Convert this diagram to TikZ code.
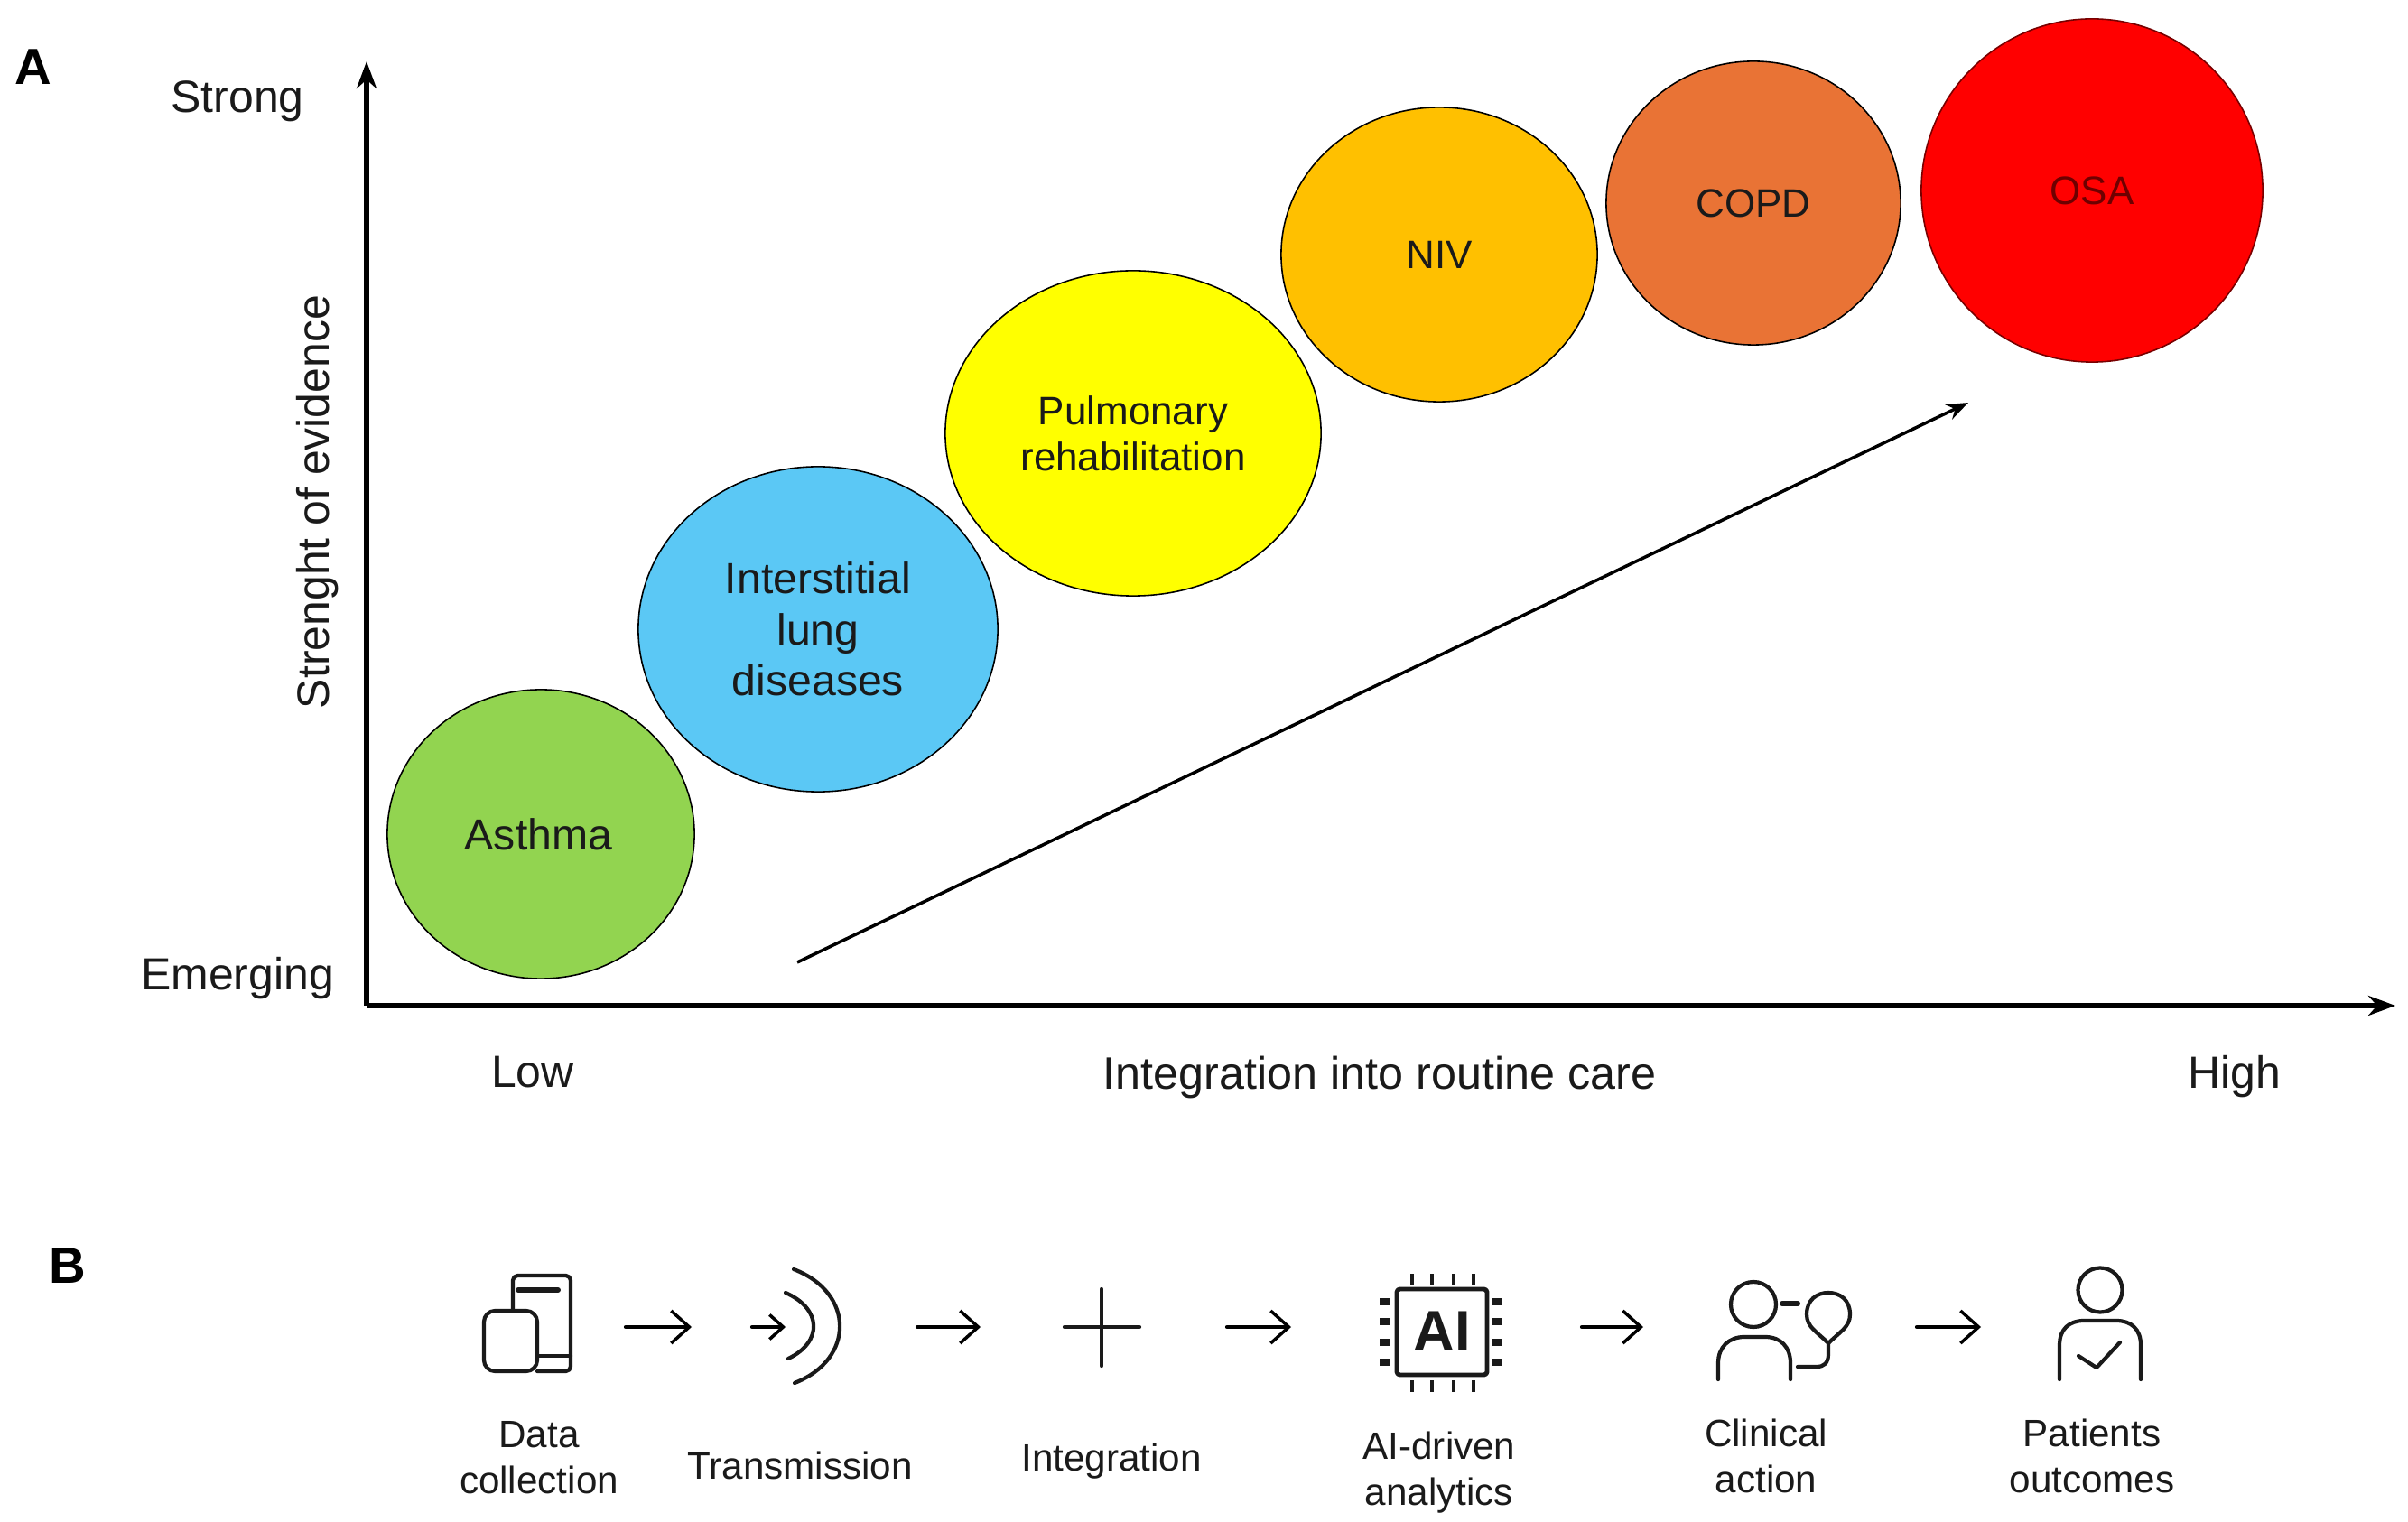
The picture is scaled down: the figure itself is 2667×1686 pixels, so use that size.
\documentclass[tikz,border=0pt]{standalone}
\usepackage{fontspec}
\setmainfont{Liberation Sans}
\usetikzlibrary{arrows.meta,shapes.geometric}
\definecolor{ink}{HTML}{1A1A1A}
\definecolor{cgreen}{RGB}{146,212,80}
\definecolor{cblue}{RGB}{91,200,245}
\definecolor{cyellow}{RGB}{255,255,0}
\definecolor{corange}{RGB}{255,192,0}
\definecolor{ccopd}{RGB}{233,115,53}
\definecolor{cred}{RGB}{255,0,0}
\definecolor{cosaedge}{RGB}{120,0,0}
\definecolor{cosatext}{RGB}{110,0,0}
\tikzset{
  blob/.style={ellipse,draw=black,line width=0.45pt,inner sep=0pt,align=center,text=ink},
  bigtxt/.style={font=\fontsize{13.7}{16}\selectfont},
  midtxt/.style={font=\fontsize{12.5}{14.5}\selectfont},
  axislabel/.style={text=ink,font=\fontsize{14.2}{16}\selectfont,inner sep=0pt},
  steplabel/.style={text=ink,font=\fontsize{12}{14.5}\selectfont,align=center,inner sep=0pt},
  panel/.style={font=\fontsize{16}{18}\bfseries\selectfont,inner sep=0pt},
  axisline/.style={line width=1.5pt,-{Stealth[length=0.3cm,width=0.22cm]}},
  flow/.style={line width=1.2pt,line cap=round,-{Straight Barb[length=0.2cm,width=0.36cm,line width=1pt]}},
  icon/.style={line width=1.2pt,line cap=round,line join=round,draw=ink},
  pin/.style={line width=1.2pt,draw=ink},
}
\begin{document}
\begin{tikzpicture}[x=0.01cm,y=-0.01cm]
\useasboundingbox[fill=white] (0,0) rectangle (2667,1686);
% panels
\node[panel] (pa) at (37,74) {A};
\node[panel] (pb) at (75,1402) {B};
% axes
\coordinate (org) at (406,1114);
\coordinate (ytop) at (406,68);
\coordinate (xend) at (2653,1114);
\draw[axisline] (org) -- (ytop);
\draw[axisline] (org) -- (xend);
\coordinate (dstart) at (883,1066);
\coordinate (dend) at (2180,446);
\draw[line width=1pt,-{Stealth[length=0.24cm,width=0.18cm]}] (dstart) -- (dend);
% circles
\node[blob,bigtxt,fill=cgreen,minimum width=3.4cm,minimum height=3.2cm] (asthma) at (599,924) {\hspace*{-0.05cm}Asthma};
\node[blob,bigtxt,fill=cblue,minimum width=3.98cm,minimum height=3.6cm] (ild) at (906,697) {Interstitial\\lung\\diseases};
\node[blob,midtxt,fill=cyellow,minimum width=4.16cm,minimum height=3.6cm] (pulm) at (1255,480) {Pulmonary\\rehabilitation};
\node[blob,midtxt,fill=corange,minimum width=3.5cm,minimum height=3.26cm] (niv) at (1594,282) {NIV};
\node[blob,midtxt,fill=ccopd,minimum width=3.26cm,minimum height=3.14cm] (copd) at (1942,225) {COPD};
\node[blob,midtxt,fill=cred,draw=cosaedge,text=cosatext,minimum width=3.78cm,minimum height=3.8cm] (osa) at (2317,211) {OSA};
% axis labels
\node[axislabel] (strong) at (263,112) {Strong};
\node[axislabel] (emerging) at (263,1084) {Emerging};
\node[axislabel,rotate=90] (yl) at (352,556) {Strenght of evidence};
\node[axislabel] (low) at (590,1188) {Low};
\node[axislabel,font=\fontsize{14.3}{16}\selectfont] (xl) at (1528,1193) {Integration into routine care};
\node[axislabel] (high) at (2475,1193) {High};
% device icon
\draw[icon,rounded corners=1.5pt] (568,1452) -- (568,1413) -- (632,1413) -- (632,1519) -- (595,1519);
\draw[icon,line width=1.7pt] (574,1429) -- (618,1429);
\draw[icon] (595,1502) -- (632,1502);
\draw[icon,rounded corners=3.5pt] (536,1452) rectangle (595,1519);
% transmission icon
\coordinate (ts) at (833,1470);
\coordinate (te) at (870,1470);
\draw[line width=1.2pt,line cap=round,-{Straight Barb[length=0.15cm,width=0.27cm,line width=1pt]}] (ts) -- (te);
\draw[icon] (870,1432) .. controls (911,1450) and (911,1487) .. (873,1505);
\draw[icon] (879,1406) .. controls (947,1432) and (947,1506) .. (880,1532);
% plus icon
\draw[icon] (1179,1470) -- (1262,1470);
\draw[icon] (1220,1428) -- (1220,1513);
% chip icon
\draw[icon,line width=1.4pt,rounded corners=1pt] (1547,1428) rectangle (1647,1523);
\foreach \px in {1564,1586,1610,1632}{
  \draw[pin] (\px,1411) -- (\px,1423);
  \draw[pin] (\px,1529) -- (\px,1542);
}
\foreach \py in {1442,1464,1487,1509}{
  \fill[ink] (1528,\py-4) rectangle (1540,\py+4);
  \fill[ink] (1652,\py-4) rectangle (1664,\py+4);
}
\node[inner sep=0pt,text=ink,font=\fontsize{18}{20}\bfseries\selectfont] (ai) at (1597,1475) {AI};
% clinician icon
\draw[icon] (1942,1445) circle [radius=0.25cm];
\draw[icon] (1903,1528) -- (1903,1510) .. controls (1903,1492) and (1915,1481) .. (1932,1481) -- (1955,1481) .. controls (1972,1481) and (1983,1492) .. (1983,1510) -- (1983,1528);
\draw[icon,line width=1.7pt] (1974,1444) -- (1991,1444);
\draw[icon] (2025,1488) .. controls (2012,1475) and (2001,1470) .. (2001,1456) .. controls (2001,1440) and (2012,1432) .. (2025,1432) .. controls (2038,1432) and (2049,1440) .. (2049,1456) .. controls (2049,1470) and (2038,1475) .. (2025,1488);
\draw[icon] (2025,1488) -- (2025,1500) .. controls (2025,1510) and (2020,1514) .. (2012,1514) -- (1991,1514);
% patient icon
\draw[icon] (2326,1429) circle [radius=0.245cm];
\draw[icon] (2281,1528) -- (2281,1490) .. controls (2281,1472) and (2292,1463) .. (2308,1463) -- (2344,1463) .. controls (2360,1463) and (2371,1472) .. (2371,1490) -- (2371,1528);
\draw[icon] (2302,1502) -- (2322,1515) -- (2348,1487);
% flow arrows
\coordinate (f1s) at (693,1470); \coordinate (f1e) at (766,1470);
\coordinate (f2s) at (1016,1470); \coordinate (f2e) at (1086,1470);
\coordinate (f3s) at (1359,1470); \coordinate (f3e) at (1430,1470);
\coordinate (f4s) at (1752,1470); \coordinate (f4e) at (1820,1470);
\coordinate (f5s) at (2123,1470); \coordinate (f5e) at (2194,1470);
\draw[flow] (f1s) -- (f1e);
\draw[flow] (f2s) -- (f2e);
\draw[flow] (f3s) -- (f3e);
\draw[flow] (f4s) -- (f4e);
\draw[flow] (f5s) -- (f5e);
% step labels
\node[steplabel] (s1) at (597,1615) {Data\\collection};
\node[steplabel] (s2) at (886,1623) {Transmission};
\node[steplabel] (s3) at (1231,1619) {Integration};
\node[steplabel] (s4) at (1594,1631) {AI-driven\\analytics};
\node[steplabel] (s5) at (1956,1613) {Clinical\\action};
\node[steplabel] (s6) at (2317,1613) {Patients\\outcomes};
\end{tikzpicture}
\end{document}
